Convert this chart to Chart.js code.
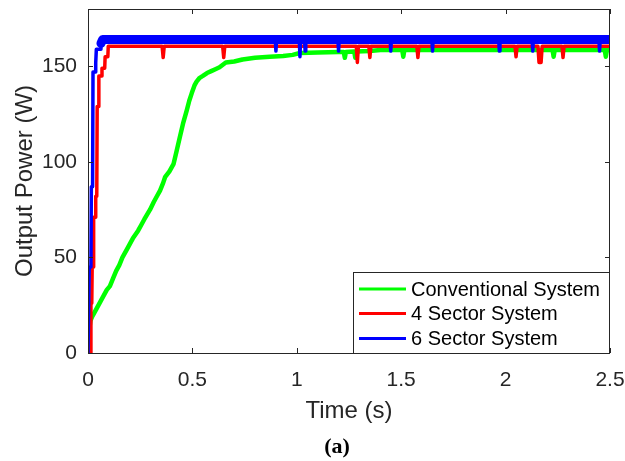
<!DOCTYPE html>
<html>
<head>
<meta charset="utf-8">
<script src="https://cdn.jsdelivr.net/npm/chart.js@4.4.0/dist/chart.umd.min.js"></script>
<style>
  html, body { margin: 0; padding: 0; background: #ffffff; }
  #wrap { width: 625px; height: 461px; }
</style>
</head>
<body>
<div id="wrap"><canvas id="c" width="625" height="461"></canvas></div>
<script>
// ---- data ----
const seriesNames = ['Conventional System', '4 Sector System', '6 Sector System'];
const seriesColors = ['#00ff00', '#ff0000', '#0000ff'];

const xTicks = [0, 0.5, 1, 1.5, 2, 2.5];
const xTickLabels = ['0', '0.5', '1', '1.5', '2', '2.5'];
const yTicks = [0, 50, 100, 150];
const yTickLabels = ['0', '50', '100', '150'];

const tConv = [0, 0.004, 0.008, 0.012, 0.02, 0.03, 0.045, 0.06, 0.075, 0.09, 0.105, 0.12, 0.135, 0.15, 0.165,
  0.185, 0.2, 0.215, 0.24, 0.255, 0.27, 0.297, 0.315, 0.33, 0.345, 0.36, 0.369, 0.39, 0.41, 0.425, 0.44, 0.455,
  0.473, 0.485, 0.497, 0.51, 0.52, 0.535, 0.55, 0.57, 0.59, 0.61, 0.63, 0.66, 0.70, 0.74, 0.80, 0.87, 0.935, 0.98,
  1.015, 1.1, 1.2, 1.225, 1.23, 1.235, 1.275, 1.28, 1.285, 1.35, 1.4, 1.505, 1.51, 1.515, 1.7, 2.0, 2.225, 2.23,
  2.235, 2.475, 2.48, 2.485, 2.5];
const pConv = [0, 6, 14, 17, 19, 21, 24, 27, 30, 33, 35, 39, 43, 46, 50,
  54, 57, 60, 64, 67, 70, 75, 79, 82, 85, 89, 92, 95, 99, 106, 113, 120,
  127, 132, 136, 140, 142, 144, 145, 146.5, 147.5, 148.5, 149.5, 152, 152.5, 153.6, 154.5, 155, 155.4, 156,
  157, 157.3, 157.5, 157.5, 154.5, 157.5, 157.8, 154.5, 157.8, 158, 158.5, 158.5, 155, 158.5, 158.5, 158.5, 158.5, 155,
  158.5, 158.5, 155, 158.5, 158.5];

const tFour = [0, 0.012, 0.014, 0.018, 0.02, 0.025, 0.027, 0.035, 0.037, 0.042, 0.044, 0.05, 0.052, 0.065, 0.067,
  0.08, 0.082, 0.095, 0.097, 0.355, 0.36, 0.365, 0.645, 0.65, 0.655, 1.285, 1.29, 1.295, 1.345, 1.35, 1.355,
  1.575, 1.58, 1.585, 2.045, 2.05, 2.055, 2.155, 2.16, 2.17, 2.175, 2.27, 2.275, 2.28, 2.5];
const pFour = [0, 0, 26, 26, 45, 45, 71, 71, 82, 82, 129, 129, 145, 145, 149,
  149, 155, 155, 160.5, 160.5, 154.6, 160.5, 160.5, 154.6, 160.5, 160.5, 152, 160.5, 160.5, 154.6, 160.5,
  160.5, 154.6, 160.5, 160.5, 155, 160.5, 160.5, 152, 152, 160.5, 160.5, 154.6, 160.5, 160.5];

const tSix = [0, 0.004, 0.006, 0.014, 0.016, 0.022, 0.024, 0.035, 0.037, 0.04, 0.06, 0.062, 0.07,
  0.897, 0.9, 0.903, 1.012, 1.015, 1.018, 1.037, 1.04, 1.043, 1.197, 1.2, 1.203, 1.447, 1.45, 1.453,
  1.647, 1.65, 1.653, 1.967, 1.97, 1.973, 2.127, 2.13, 2.133, 2.447, 2.45, 2.453, 2.5];
const pSix = [0, 0, 45, 45, 87, 87, 147, 147, 152, 159, 159, 162, 164,
  164, 158, 164, 164, 155, 164, 164, 158, 164, 164, 158, 164, 164, 158, 164,
  164, 158, 164, 164, 158, 164, 164, 158, 164, 164, 158, 164, 164];

// ---- build ----
const pairs = (ts, ps) => ts.map((t, i) => ({ x: t, y: ps[i] }));
const AX = '#262626';
const SANS = '"Liberation Sans", Arial, sans-serif';

const framePlugin = {
  id: 'frameLegendCaption',
  afterDraw(chart) {
    const { ctx, chartArea: a } = chart;
    const xs = chart.scales.x, ys = chart.scales.y;
    ctx.save();
    // box
    ctx.strokeStyle = AX; ctx.lineWidth = 1;
    ctx.strokeRect(Math.round(a.left) + 0.5, Math.round(a.top) + 0.5,
      Math.round(a.right - a.left) - 1, Math.round(a.bottom - a.top));
    // inward ticks
    const tl = 5;
    ctx.beginPath();
    xTicks.forEach(v => {
      const px = Math.round(xs.getPixelForValue(v)) + 0.5;
      ctx.moveTo(px, a.bottom); ctx.lineTo(px, a.bottom - tl);
      ctx.moveTo(px, a.top); ctx.lineTo(px, a.top + tl);
    });
    yTicks.forEach(v => {
      const py = Math.round(ys.getPixelForValue(v)) + 0.5;
      ctx.moveTo(a.left, py); ctx.lineTo(a.left + tl, py);
      ctx.moveTo(a.right, py); ctx.lineTo(a.right - tl, py);
    });
    ctx.stroke();
    // legend
    const lx = 353.5, ly = 272.5, lw = 256, lh = 81;
    ctx.fillStyle = '#ffffff';
    ctx.fillRect(lx, ly, lw, lh);
    ctx.strokeStyle = AX; ctx.lineWidth = 1;
    ctx.strokeRect(lx, ly, lw, lh);
    ctx.font = '20px ' + SANS;
    ctx.textBaseline = 'middle';
    ctx.textAlign = 'left';
    const rows = [289, 313.5, 338.5];
    chart.data.datasets.forEach((ds, i) => {
      ctx.strokeStyle = ds.borderColor; ctx.lineWidth = 3;
      ctx.lineCap = 'butt';
      ctx.beginPath(); ctx.moveTo(359, rows[i]); ctx.lineTo(406, rows[i]); ctx.stroke();
      ctx.fillStyle = '#000000';
      ctx.fillText(ds.label, 411, rows[i] + 1);
    });
    // caption
    ctx.font = 'bold 22px "Liberation Serif", "Times New Roman", serif';
    ctx.textAlign = 'center';
    ctx.fillStyle = '#000000';
    ctx.fillText('(a)', 337, 447);
    ctx.restore();
  }
};

const thickWhenFlat = (wide, thin, lim) => ctx =>
  (ctx.p0.parsed.y >= lim && ctx.p1.parsed.y >= lim) ? wide : thin;
const noPad = s => { s.paddingLeft = 0; s.paddingRight = 0; s.paddingTop = 0; s.paddingBottom = 0; };

new Chart(document.getElementById('c'), {
  type: 'line',
  data: {
    datasets: [
      { label: seriesNames[0], data: pairs(tConv, pConv), borderColor: seriesColors[0], borderWidth: 4.5, order: 3 },
      { label: seriesNames[1], data: pairs(tFour, pFour), borderColor: seriesColors[1], borderWidth: 3.5, order: 2 },
      { label: seriesNames[2], data: pairs(tSix, pSix), borderColor: seriesColors[2], borderWidth: 3.5, order: 1,
        borderCapStyle: 'round',
        segment: { borderWidth: thickWhenFlat(9, 3.5, 161), borderCapStyle: () => 'round' } }
    ]
  },
  options: {
    responsive: false,
    animation: false,
    devicePixelRatio: 1,
    layout: { padding: { left: 0, right: 15, top: 9, bottom: 0 } },
    elements: { point: { radius: 0 }, line: { tension: 0, borderJoinStyle: 'round', borderCapStyle: 'butt' } },
    plugins: { legend: { display: false }, tooltip: { enabled: false } },
    scales: {
      x: {
        type: 'linear', min: 0, max: 2.5,
        afterBuildTicks: s => { s.ticks = xTicks.map(v => ({ value: v })); },
        afterFit: s => { s.height = 108; noPad(s); },
        ticks: { color: AX, font: { family: SANS, size: 21 }, padding: 15, maxRotation: 0,
          callback: (v) => xTickLabels[xTicks.indexOf(v)] },
        grid: { display: false, drawTicks: false },
        border: { display: false },
        title: { display: true, text: 'Time (s)', color: AX, font: { family: SANS, size: 24 }, padding: { top: 0, bottom: 35 } }
      },
      y: {
        type: 'linear', min: 0, max: 180,
        afterBuildTicks: s => { s.ticks = yTicks.map(v => ({ value: v })); },
        afterFit: s => { s.width = 88; noPad(s); },
        ticks: { color: AX, font: { family: SANS, size: 21 }, padding: 11,
          callback: (v) => yTickLabels[yTicks.indexOf(v)] },
        grid: { display: false, drawTicks: false },
        border: { display: false },
        title: { display: true, text: 'Output Power (W)', color: AX, font: { family: SANS, size: 24 }, padding: { top: 11, bottom: 0 } }
      }
    }
  },
  plugins: [framePlugin]
});
</script>
</body>
</html>
